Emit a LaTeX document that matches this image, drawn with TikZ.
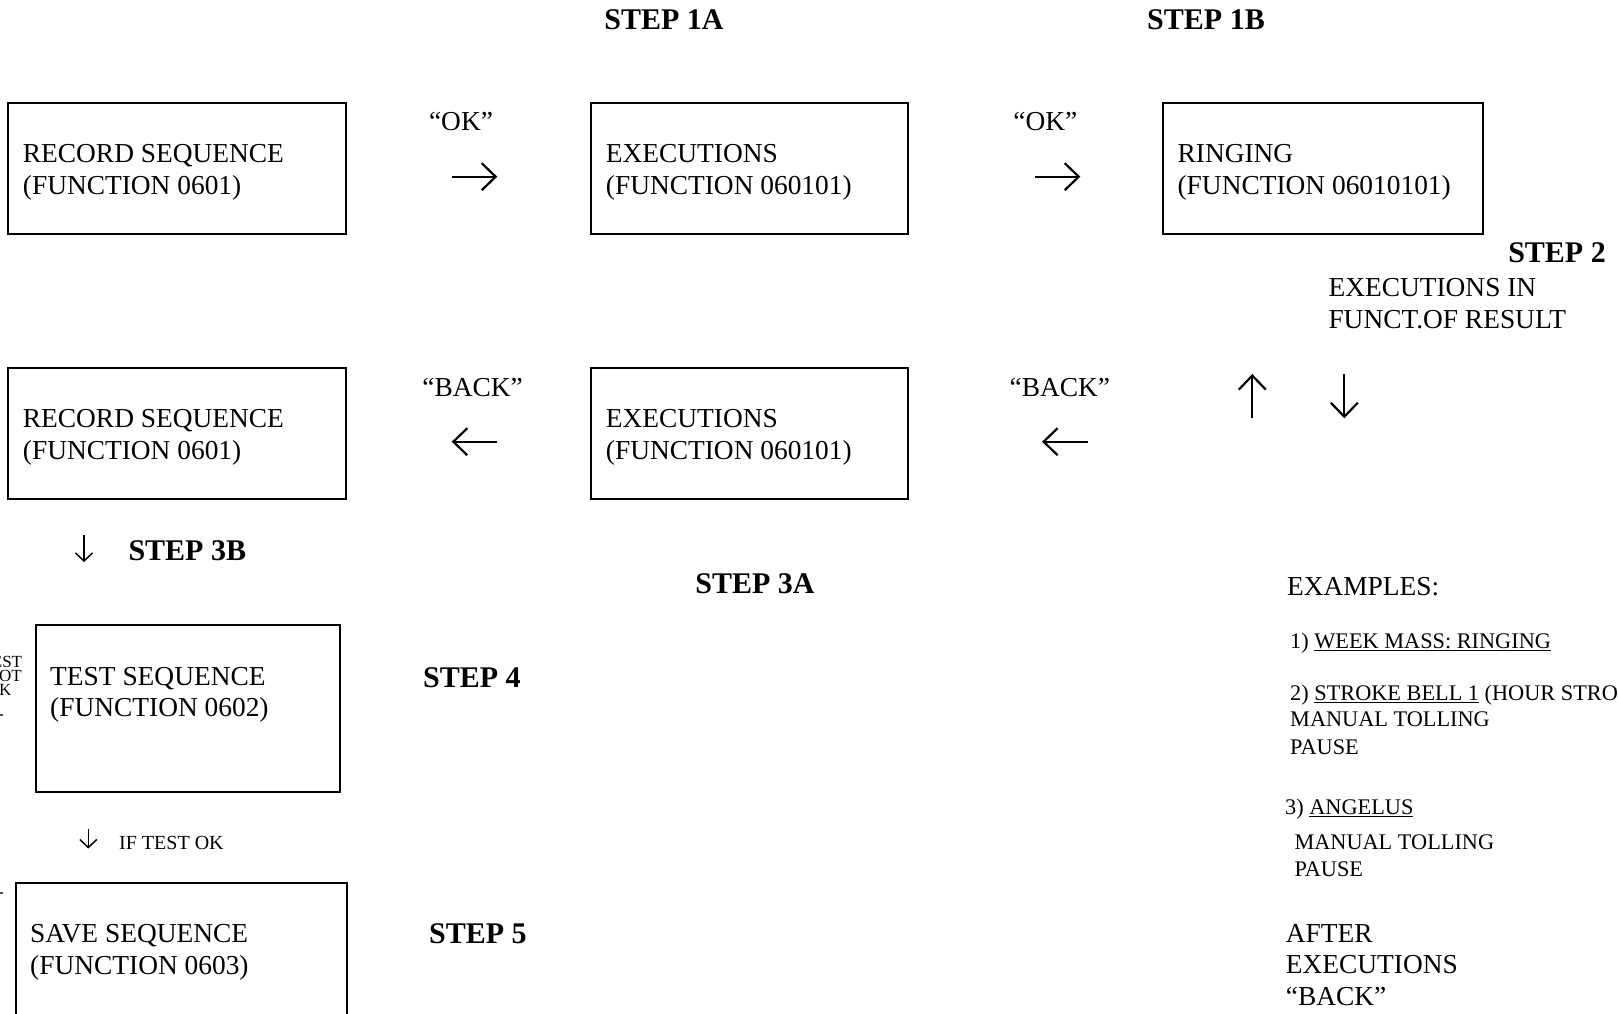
\documentclass[tikz,border=0pt]{standalone}
\usepackage{fontspec}
\setmainfont{Liberation Serif}
\usetikzlibrary{arrows.meta}
\begin{document}
\begin{tikzpicture}[x=1pt,y=-1pt,
  box/.style={draw, line width=2pt, inner sep=0pt},
  tx/.style={anchor=base west, inner sep=0pt, font=\fontsize{27.4}{31.5}\selectfont},
  sm/.style={anchor=base west, inner sep=0pt, font=\fontsize{22.3}{26}\selectfont},
  side/.style={anchor=base east, inner sep=0pt, font=\fontsize{17}{14}\selectfont},
  stp/.style={anchor=base, inner sep=0pt, font=\fontsize{30}{34}\selectfont\bfseries},
  lbl/.style={anchor=base, inner sep=0pt, font=\fontsize{27.4}{31.5}\selectfont},
  bigarr/.style={line width=2.2pt, -{Straight Barb[length=14pt,width=27pt]}},
  smallarr/.style={line width=1.5pt, -{Straight Barb[length=8pt,width=17pt]}}]

\useasboundingbox (0,0) rectangle (1618,1013);
\clip (0,0) rectangle (1618,1013);

% step headings
\node[stp] (s1a) at (664,29.3) {STEP 1A};
\node[stp] (s1b) at (1206,29.3) {STEP 1B};
\node[stp, anchor=base east] (s2) at (1606,262.5) {STEP 2};
\node[stp, anchor=base west] (s3b) at (128.3,560) {STEP 3B};
\node[stp] (s3a) at (755,593.5) {STEP 3A};
\node[stp, anchor=base west] (s4) at (423,687.5) {STEP 4};
\node[stp, anchor=base west] (s5) at (429,943.5) {STEP 5};

% function boxes
\node[box, minimum width=337.4pt, minimum height=131pt] (rec1) at (177,168.7) {};
\node[box, minimum width=316.8pt, minimum height=131pt] (exe1) at (749.7,168.7) {};
\node[box, minimum width=319.8pt, minimum height=131pt] (ring) at (1322.9,168.7) {};
\node[box, minimum width=337.4pt, minimum height=131pt] (rec2) at (177,433.9) {};
\node[box, minimum width=316.8pt, minimum height=131pt] (exe2) at (749.7,433.9) {};
\node[box, minimum width=304.3pt, minimum height=166.2pt] (test) at (187.85,708.5) {};
\node[box, minimum width=331.6pt, minimum height=167pt] (save) at (181.5,966.2) {};

% box texts
\node[tx] (rec1a) at (22.7,162.7) {RECORD SEQUENCE};
\node[tx] (rec1b) at (22.7,194) {(FUNCTION 0601)};
\node[tx] (exe1a) at (605.7,162.7) {EXECUTIONS};
\node[tx] (exe1b) at (605.7,194) {(FUNCTION 060101)};
\node[tx] (ringa) at (1177.4,162.7) {RINGING};
\node[tx] (ringb) at (1177.4,194) {(FUNCTION 06010101)};
\node[tx] (rec2a) at (22.7,427.9) {RECORD SEQUENCE};
\node[tx] (rec2b) at (22.7,459.2) {(FUNCTION 0601)};
\node[tx] (exe2a) at (605.7,427.9) {EXECUTIONS};
\node[tx] (exe2b) at (605.7,459.2) {(FUNCTION 060101)};
\node[tx] (testa) at (50,685) {TEST SEQUENCE};
\node[tx] (testb) at (50,716) {(FUNCTION 0602)};
\node[tx] (savea) at (30,942.3) {SAVE SEQUENCE};
\node[tx] (saveb) at (30,974) {(FUNCTION 0603)};

% key labels
\node[lbl] (ok1) at (461,130.3) {“OK”};
\node[lbl] (ok2) at (1045.3,130.3) {“OK”};
\node[lbl] (back1) at (472.6,396.5) {“BACK”};
\node[lbl] (back2) at (1059.8,396.5) {“BACK”};

% arrows between the screens
\coordinate (a1s) at (451.7,176.7);  \coordinate (a1e) at (497.3,176.7);
\coordinate (a2s) at (1034.5,176.7); \coordinate (a2e) at (1080.3,176.7);
\coordinate (a3s) at (497.3,441.7);  \coordinate (a3e) at (451.7,441.7);
\coordinate (a4s) at (1087.8,441.7); \coordinate (a4e) at (1042,441.7);
\coordinate (a5s) at (1252.3,418.3); \coordinate (a5e) at (1252.3,374);
\coordinate (a6s) at (1344.3,374);   \coordinate (a6e) at (1344.3,418.3);
\coordinate (a7s) at (84,535);       \coordinate (a7e) at (84,562);
\coordinate (a8s) at (88.3,829);     \coordinate (a8e) at (88.3,848.5);
\draw[bigarr] (a1s) -- (a1e);
\draw[bigarr] (a2s) -- (a2e);
\draw[bigarr] (a3s) -- (a3e);
\draw[bigarr] (a4s) -- (a4e);
\draw[bigarr] (a5s) -- (a5e);
\draw[bigarr] (a6s) -- (a6e);
\draw[smallarr] (a7s) -- (a7e);
\draw[smallarr] (a8s) -- (a8e);

% step 2 note
\node[tx] (res1) at (1328.3,296.7) {EXECUTIONS IN};
\node[tx] (res2) at (1328.3,328.3) {FUNCT.OF RESULT};

% test branch notes
\node[sm, font=\fontsize{20}{24}\selectfont] (iftest) at (119,849.3) {IF TEST OK};
\node[side] (nok1) at (22.3,667.3) {IF TEST};
\node[side] (nok2) at (22,681.7) {NOT};
\node[side] (nok3) at (11.7,695) {OK};
\fill[black!70] (0,714.2) rectangle (2.5,715.8);
\fill[black!70] (0,892.2) rectangle (2.5,893.8);

% examples
\node[tx] (exh) at (1286.8,595.5) {EXAMPLES:};
\node[sm] (ex1) at (1290,648.3) {1) \underline{WEEK MASS: RINGING}};
\node[sm] (ex2) at (1290,700.7) {2) \underline{STROKE BELL 1} (HOUR STROKE)};
\node[sm] (ex2b) at (1290,726.7) {MANUAL TOLLING};
\node[sm] (ex2c) at (1290,754) {PAUSE};
\node[sm] (ex3) at (1285,814.3) {3) \underline{ANGELUS}};
\node[sm] (ex3b) at (1294.3,849) {MANUAL TOLLING};
\node[sm] (ex3c) at (1294.3,876.7) {PAUSE};
\node[tx] (aft1) at (1285.7,942.3) {AFTER};
\node[tx] (aft2) at (1285.7,973.6) {EXECUTIONS};
\node[tx] (aft3) at (1285.7,1005) {“BACK”};
\end{tikzpicture}
\end{document}
